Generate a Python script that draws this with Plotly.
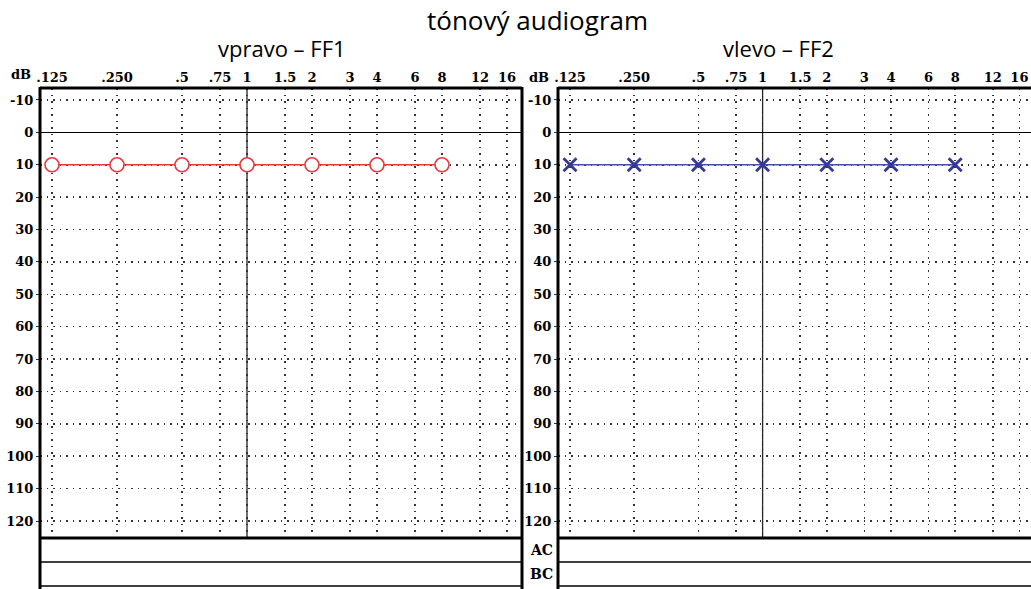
import math
import plotly.graph_objects as go

# ---- data ----
freq_ticks = [0.125, 0.25, 0.5, 0.75, 1, 1.5, 2, 3, 4, 6, 8, 12, 16]
freq_labels = [".125", ".250", ".5", ".75", "1", "1.5", "2", "3", "4", "6", "8", "12", "16"]
db_ticks = [-10, 0, 10, 20, 30, 40, 50, 60, 70, 80, 90, 100, 110, 120]
db_labels = [str(v) for v in db_ticks]

right_freq = [0.125, 0.25, 0.5, 1, 2, 4, 8]
right_db = [10, 10, 10, 10, 10, 10, 10]
left_freq = [0.125, 0.25, 0.5, 1, 2, 4, 8]
left_db = [10, 10, 10, 10, 10, 10, 10]

title_text = "tónový audiogram"
panel_titles = ["vpravo – FF1", "vlevo – FF2"]

W, H = 1031, 589
OFF = 0  # body margin removed by post_script
PPL = 65 / math.log10(2)     # pixels per log10 unit (left panel)
PPL_R = 64.2 / math.log10(2)  # right panel (slightly tighter, as in the reference)


def px(x):
    return (x - OFF) / W


def py(y):
    return 1 - (y - OFF) / H


fig = go.Figure()

fig.add_trace(go.Scatter(
    x=right_freq, y=right_db, mode="lines+markers", xaxis="x", yaxis="y",
    line=dict(color="#e3393f", width=1.5),
    marker=dict(symbol="circle", size=14, color="white",
                line=dict(color="#e3393f", width=1.6)),
    showlegend=False, cliponaxis=False, hoverinfo="skip"))

fig.add_trace(go.Scatter(
    x=left_freq, y=left_db, mode="lines+markers", xaxis="x2", yaxis="y2",
    line=dict(color="#4a50a8", width=1.5),
    marker=dict(symbol="x-thin", size=13,
                line=dict(color="#343a90", width=2.8)),
    showlegend=False, cliponaxis=False, hoverinfo="skip"))

tickfont = dict(family="DejaVu Serif", size=13, color="black", weight="bold")

lg0 = math.log10(0.125)
xl_range = [lg0 - 12 / PPL, lg0 - 12 / PPL + 482 / PPL]
xr_range = [lg0 - 12 / PPL_R, lg0 - 12 / PPL_R + (1031 - 558) / PPL_R]
ydom = [py(538), py(88)]
yrange = [120 + 17 / 3.24, -10 - 12 / 3.24]

common_x = dict(type="log", tickvals=freq_ticks, ticktext=freq_labels, side="top",
                showgrid=True, gridcolor="#333333", gridwidth=1.5, griddash="1.5px,5px",
                showline=False, zeroline=False, ticks="", tickfont=tickfont,
                ticklabelstandoff=2, ticklabeloverflow="allow",
                fixedrange=True, automargin=False)
common_y = dict(range=yrange, tickvals=db_ticks, ticktext=db_labels,
                showgrid=True, gridcolor="#333333", gridwidth=1.5, griddash="1.5px,5px",
                zeroline=True, zerolinecolor="black", zerolinewidth=1.2,
                showline=False, ticks="outside", ticklen=3, tickcolor="#333",
                tickfont=tickfont, ticklabeloverflow="allow",
                fixedrange=True, automargin=False)

fig.update_layout(
    width=W, height=H, margin=dict(l=0, r=0, t=0, b=0),
    paper_bgcolor="white", plot_bgcolor="white",
    xaxis=dict(domain=[px(40), px(522)], range=xl_range, anchor="y", **common_x),
    yaxis=dict(domain=ydom, anchor="x", **common_y),
    xaxis2=dict(domain=[px(558), px(1031)], range=xr_range, anchor="y2", **common_x),
    yaxis2=dict(domain=ydom, anchor="x2", **common_y),
)

shapes = []
# 1 kHz solid lines
for xa, ya in [("x", "y"), ("x2", "y2")]:
    shapes.append(dict(type="line", xref=xa, yref=ya + " domain", x0=1, x1=1, y0=0, y1=1,
                       line=dict(color="#222", width=1.3), layer="below"))


def hline(y, xa, xb, w):
    shapes.append(dict(type="line", xref="paper", yref="paper", x0=px(xa), x1=px(xb),
                       y0=py(y), y1=py(y), line=dict(color="black", width=w)))


def vline(x, ya, yb, w):
    shapes.append(dict(type="line", xref="paper", yref="paper", x0=px(x), x1=px(x),
                       y0=py(ya), y1=py(yb), line=dict(color="black", width=w)))


for (a, b) in [(40, 522), (558, 1031)]:
    hline(88, a, b, 3)
    hline(538, a, b, 3)
    hline(562, a, b, 1.6)
    hline(586, a, b, 1.6)
    vline(a, 87, 589, 3)
vline(522, 87, 589, 3)

fig.update_layout(shapes=shapes)

serif_b = dict(family="DejaVu Serif", size=13, color="black", weight="bold")
serif_ac = dict(family="DejaVu Serif", size=14, color="black", weight="bold")


def label(text, x, y, font):
    return dict(text=text, x=px(x), y=py(y), xref="paper", yref="paper",
                xanchor="center", yanchor="middle", showarrow=False, font=font)


ann = [
    label(title_text, 537, 20, dict(family="Open Sans", size=26, color="black")),
    label(panel_titles[0], 282, 48, dict(family="Open Sans", size=22, color="black")),
    label(panel_titles[1], 778, 48, dict(family="Open Sans", size=22, color="black")),
    label("dB", 21, 75, serif_b),
    label("dB", 539, 77, serif_b),
    label("AC", 541, 550, serif_ac),
    label("BC", 541, 574, serif_ac),
]
fig.update_layout(annotations=ann)

fig.write_html(
    "out.html",
    config={"displayModeBar": False, "staticPlot": True},
    post_script="document.body.style.margin='0';document.body.style.overflow='hidden';",
)
